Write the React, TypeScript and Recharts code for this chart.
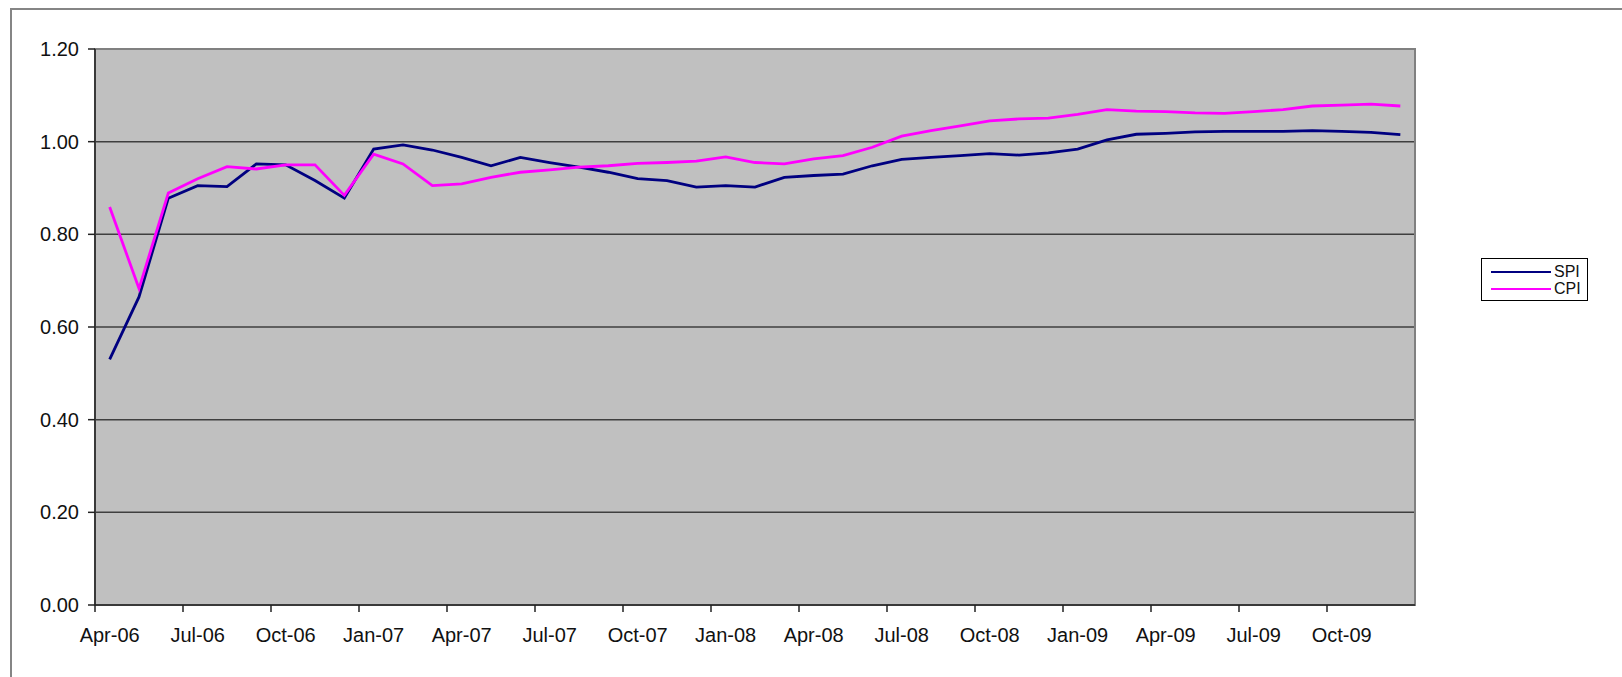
import React from "react";
import {
  CartesianGrid,
  Legend,
  Line,
  LineChart,
  ReferenceArea,
  XAxis,
  YAxis,
} from "recharts";

// monthly categories, Apr-06 .. Dec-09
const months = [
  "Apr-06", "May-06", "Jun-06", "Jul-06", "Aug-06", "Sep-06", "Oct-06", "Nov-06", "Dec-06",
  "Jan-07", "Feb-07", "Mar-07", "Apr-07", "May-07", "Jun-07", "Jul-07", "Aug-07", "Sep-07",
  "Oct-07", "Nov-07", "Dec-07", "Jan-08", "Feb-08", "Mar-08", "Apr-08", "May-08", "Jun-08",
  "Jul-08", "Aug-08", "Sep-08", "Oct-08", "Nov-08", "Dec-08", "Jan-09", "Feb-09", "Mar-09",
  "Apr-09", "May-09", "Jun-09", "Jul-09", "Aug-09", "Sep-09", "Oct-09", "Nov-09", "Dec-09",
];

const spi = [
  0.53, 0.665, 0.878, 0.905, 0.903, 0.952, 0.95, 0.916, 0.878,
  0.984, 0.993, 0.982, 0.966, 0.948, 0.966, 0.955, 0.945, 0.934,
  0.92, 0.916, 0.902, 0.905, 0.902, 0.923, 0.927, 0.93, 0.948,
  0.962, 0.966, 0.97, 0.974, 0.971, 0.976, 0.984, 1.004, 1.016,
  1.018, 1.021, 1.022, 1.022, 1.022, 1.024, 1.022, 1.02, 1.015,
];

const cpi = [
  0.859, 0.683, 0.889, 0.92, 0.946, 0.941, 0.95, 0.95, 0.884,
  0.973, 0.952, 0.905, 0.909, 0.923, 0.934, 0.939, 0.945, 0.948,
  0.953, 0.955, 0.958, 0.967, 0.955, 0.952, 0.963, 0.97, 0.988,
  1.012, 1.024, 1.034, 1.045, 1.049, 1.051, 1.059, 1.069, 1.066,
  1.065, 1.062, 1.061, 1.065, 1.069, 1.077, 1.079, 1.081, 1.077,
];

// tick marks every quarter, on the month boundaries
const xTicks = [0, 3, 6, 9, 12, 15, 18, 21, 24, 27, 30, 33, 36, 39, 42];
const yTicks = [0, 0.2, 0.4, 0.6, 0.8, 1.0, 1.2];
const seriesOrder = ["SPI", "CPI"];

const FONT = '"Liberation Sans", Arial, sans-serif';
const SPI_COLOR = "#000080";
const CPI_COLOR = "#ff00ff";

const data = months.map((m, i) => ({
  x: i + 0.5,
  month: m,
  SPI: spi[i],
  CPI: cpi[i],
}));

function MonthTick(props: any) {
  const { x, y, payload, width } = props;
  const catW = (width || 1320) / months.length;
  const label = months[payload.value] ?? "";
  return (
    <text
      x={x + catW / 2}
      y={y}
      dy="0.71em"
      textAnchor="middle"
      fontFamily={FONT}
      fontSize={20}
      fill="#111"
    >
      {label}
    </text>
  );
}

function LegendBox(props: any) {
  const items = [...(props.payload || [])].sort(
    (a: any, b: any) => seriesOrder.indexOf(a.value) - seriesOrder.indexOf(b.value)
  );
  return (
    <div
      style={{
        width: 107,
        height: 43,
        boxSizing: "border-box",
        border: "1px solid #000",
        background: "#fff",
        fontFamily: FONT,
        fontSize: 16,
        color: "#111",
        position: "relative",
      }}
    >
      {items.map((it: any, i: number) => (
        <div
          key={it.value}
          style={{
            position: "absolute",
            left: 0,
            top: 4 + i * 17,
            height: 17,
            display: "flex",
            alignItems: "center",
          }}
        >
          <div
            style={{
              marginLeft: 9,
              width: 60,
              height: 2,
              background: it.color,
            }}
          />
          <span style={{ marginLeft: 3 }}>{it.value}</span>
        </div>
      ))}
    </div>
  );
}

export default function App() {
  return (
    <div
      style={{
        position: "absolute",
        left: 0,
        top: 0,
        width: 1622,
        height: 677,
        background: "#fff",
        overflow: "hidden",
      }}
    >
      {/* outer chart-area frame (only left and top edges are in view) */}
      <div
        style={{
          position: "absolute",
          left: 10,
          top: 8,
          width: 1700,
          height: 800,
          borderLeft: "2px solid #858585",
          borderTop: "2px solid #858585",
        }}
      />
      <div style={{ position: "absolute", left: 0, top: 0 }}>
        <LineChart
          width={1622}
          height={677}
          data={data}
          margin={{ top: 49, right: 207, bottom: 0, left: 0 }}
        >
          <CartesianGrid
            vertical={false}
            fill="#c0c0c0"
            stroke="#3f3f3f"
            strokeWidth={1.5}
            horizontalValues={yTicks}
          />
          <ReferenceArea
            x1={0}
            x2={45}
            y1={0}
            y2={1.2}
            fill="none"
            stroke="#808080"
            strokeWidth={2}
            ifOverflow="visible"
          />
          <XAxis
            type="number"
            dataKey="x"
            domain={[0, 45]}
            ticks={xTicks}
            interval={0}
            height={72}
            tickSize={7}
            tickMargin={16}
            axisLine={{ stroke: "#222", strokeWidth: 1.5 }}
            tickLine={{ stroke: "#222", strokeWidth: 1.5 }}
            tick={<MonthTick />}
          />
          <YAxis
            type="number"
            domain={[0, 1.2]}
            ticks={yTicks}
            interval={0}
            width={95}
            tickSize={7}
            tickMargin={9}
            axisLine={{ stroke: "#222", strokeWidth: 1.5 }}
            tickLine={{ stroke: "#222", strokeWidth: 1.5 }}
            tickFormatter={(v: number) => v.toFixed(2)}
            tick={{ fontFamily: FONT, fontSize: 20, fill: "#111" }}
          />
          <Legend
            layout="vertical"
            align="center"
            verticalAlign="middle"
            content={<LegendBox />}
            wrapperStyle={{ left: 1481, top: 258, width: 107, height: 43 }}
          />
          <Line
            type="linear"
            dataKey="SPI"
            name="SPI"
            stroke={SPI_COLOR}
            strokeWidth={2.8}
            dot={false}
            activeDot={false}
            isAnimationActive={false}
          />
          <Line
            type="linear"
            dataKey="CPI"
            name="CPI"
            stroke={CPI_COLOR}
            strokeWidth={2.8}
            dot={false}
            activeDot={false}
            isAnimationActive={false}
          />
        </LineChart>
      </div>
    </div>
  );
}
